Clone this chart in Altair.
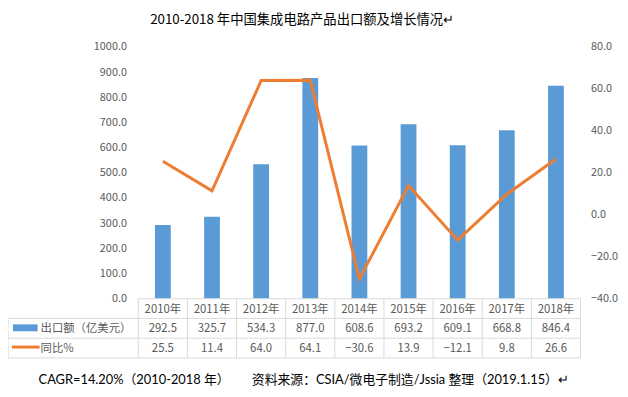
import altair as alt
import pandas as pd

years = ["2010年", "2011年", "2012年", "2013年", "2014年", "2015年", "2016年", "2017年", "2018年"]
export_vals = [292.5, 325.7, 534.3, 877.0, 608.6, 693.2, 609.1, 668.8, 846.4]
yoy_vals = [25.5, 11.4, 64.0, 64.1, -30.6, 13.9, -12.1, 9.8, 26.6]

title_text = "2010-2018 年中国集成电路产品出口额及增长情况↵"
series1_name = "出口额（亿美元）"
series2_name = "同比%"
footer_left = "CAGR=14.20%（2010-2018 年）"
footer_right = "资料来源：CSIA/微电子制造/Jssia 整理（2019.1.15）↵"

df = pd.DataFrame({"year": years, "export": export_vals, "yoy": yoy_vals})
one = pd.DataFrame({"k": [0]})

W, H = 448, 255
FONT = "Noto Sans CJK SC"
FOOT_FONT = "Lato, 'Noto Sans CJK SC'"
GRAY = "#595959"
LINE_GRAY = "#D9D9D9"
BLUE = "#5B9BD5"
ORANGE = "#ED7D31"

xscale = alt.Scale(type="band", paddingInner=0, paddingOuter=0)
xenc = alt.X("year:N", sort=years, scale=xscale, axis=None)

base = alt.Chart(df)

bars = base.mark_bar(size=16, color=BLUE).encode(
    x=xenc,
    y=alt.Y("export:Q",
            scale=alt.Scale(domain=[0, 1000], nice=False, zero=True),
            axis=alt.Axis(orient="left", values=list(range(0, 1001, 100)), format=".1f",
                          title=None, domain=False, ticks=False, grid=False,
                          labelPadding=12, labelFontSize=11, labelColor=GRAY, labelFont=FONT)),
)

line = base.mark_line(color=ORANGE, strokeWidth=3).encode(
    x=xenc,
    y=alt.Y("yoy:Q",
            scale=alt.Scale(domain=[-40, 80], nice=False, zero=False),
            axis=alt.Axis(orient="right", values=list(range(-40, 81, 20)), format=".1f",
                          title=None, domain=False, ticks=False, grid=False,
                          labelPadding=10, labelFontSize=11, labelColor=GRAY, labelFont=FONT)),
)

txt_style = dict(font=FONT, fontSize=11.5, color=GRAY, baseline="middle")

header = base.mark_text(**txt_style).encode(x=xenc, y=alt.value(266), text="year:N")
row1 = base.mark_text(**txt_style).encode(x=xenc, y=alt.value(286), text=alt.Text("export:Q", format=".1f"))
row2 = base.mark_text(**txt_style).encode(x=xenc, y=alt.value(306), text=alt.Text("yoy:Q", format=".1f"))

leg1_txt = alt.Chart(one).mark_text(align="left", text=series1_name, **txt_style).encode(
    x=alt.value(-99), y=alt.value(286))
leg2_txt = alt.Chart(one).mark_text(align="left", text=series2_name, **txt_style).encode(
    x=alt.value(-99), y=alt.value(306))
leg1_sw = alt.Chart(one).mark_rect(color=BLUE).encode(
    x=alt.value(-127), x2=alt.value(-102), y=alt.value(281), y2=alt.value(288))
leg2_sw = alt.Chart(one).mark_rule(color=ORANGE, strokeWidth=3).encode(
    x=alt.value(-128), x2=alt.value(-100), y=alt.value(304))

rule_style = dict(color=LINE_GRAY, strokeWidth=1)
hrules = [
    alt.Chart(one).mark_rule(**rule_style).encode(x=alt.value(0), x2=alt.value(W), y=alt.value(255)),
    alt.Chart(one).mark_rule(**rule_style).encode(x=alt.value(-132), x2=alt.value(W), y=alt.value(275)),
    alt.Chart(one).mark_rule(**rule_style).encode(x=alt.value(-132), x2=alt.value(W), y=alt.value(295)),
    alt.Chart(one).mark_rule(**rule_style).encode(x=alt.value(-132), x2=alt.value(W), y=alt.value(315)),
]
vrule_bands = base.mark_rule(**rule_style).encode(
    x=alt.X("year:N", sort=years, scale=xscale, axis=None, bandPosition=0),
    y=alt.value(255), y2=alt.value(315))
vrule_end = alt.Chart(one).mark_rule(**rule_style).encode(
    x=alt.value(W), y=alt.value(255), y2=alt.value(315))
vrule_left = alt.Chart(one).mark_rule(**rule_style).encode(
    x=alt.value(-132), y=alt.value(275), y2=alt.value(315))

title = alt.Chart(one).mark_text(text=title_text, font=FONT, fontSize=13.5, fontWeight="normal",
                                 color="#000000", align="center", baseline="middle").encode(
    x=alt.value(166), y=alt.value(-27))
foot1 = alt.Chart(one).mark_text(text=footer_left, font=FOOT_FONT, fontSize=13, color="#000000",
                                 align="left", baseline="middle").encode(x=alt.value(-101), y=alt.value(337))
foot2 = alt.Chart(one).mark_text(text=footer_right, font=FOOT_FONT, fontSize=13, color="#000000",
                                 align="left", baseline="middle").encode(x=alt.value(115), y=alt.value(337))

chart = alt.layer(
    bars, line, *hrules, vrule_bands, vrule_end, vrule_left,
    header, row1, row2, leg1_sw, leg2_sw, leg1_txt, leg2_txt, title, foot1, foot2
).resolve_scale(y="independent").properties(
    width=W, height=H,
    autosize=alt.AutoSizeParams(type="none"),
    padding={"left": 132, "top": 37, "right": 40, "bottom": 89},
).configure_view(stroke=None)

chart.save("out.html", embed_options={"renderer": "svg", "actions": False})
